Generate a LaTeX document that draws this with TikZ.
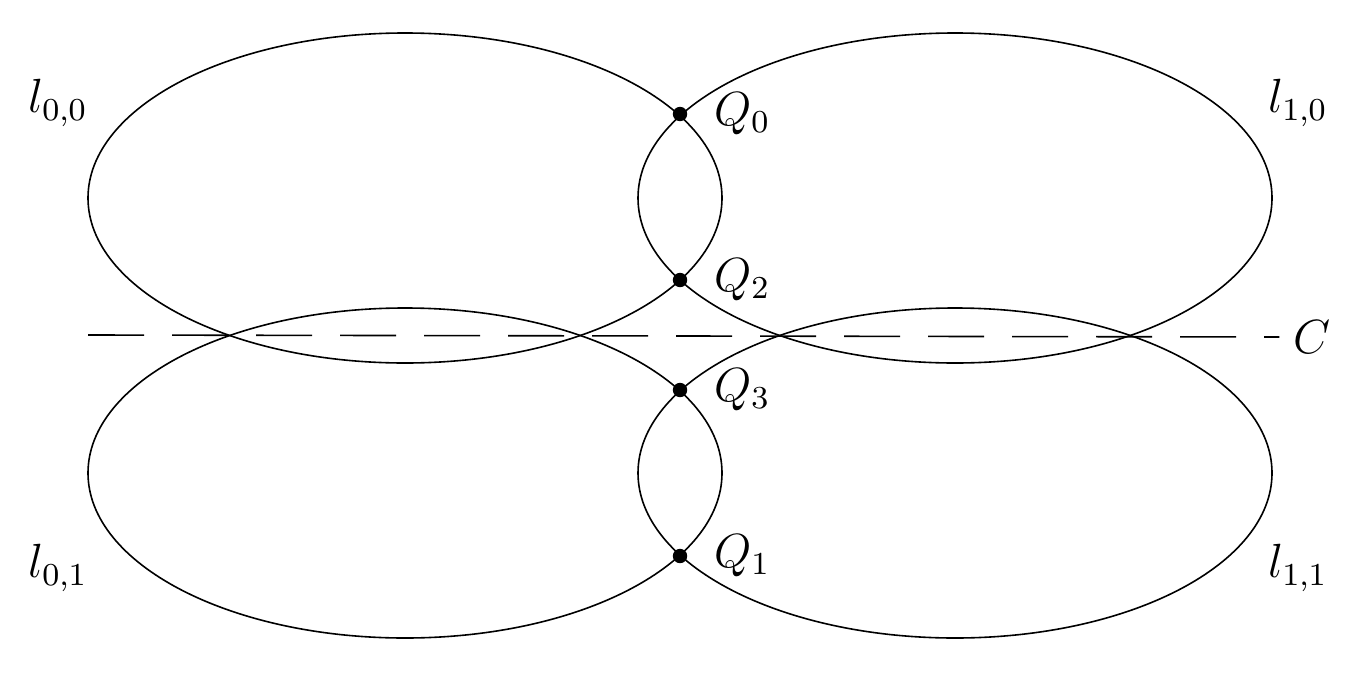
\documentclass[tikz,border=0pt]{standalone}
\begin{document}
\begin{tikzpicture}[x=0.25pt,y=-0.25pt,
  dot/.style={circle,fill=black,inner sep=0pt,minimum size=3.6pt},
  lab/.style={font=\large}]
\useasboundingbox (0,0) rectangle (1359,675);
\draw (405,198) ellipse [x radius=317, y radius=165];
\draw (955,198) ellipse [x radius=317, y radius=165];
\draw (405,473) ellipse [x radius=317, y radius=165];
\draw (955,473) ellipse [x radius=317, y radius=165];
\coordinate (cl) at (88,335);
\node[lab] (C) at (1312,337) {$C$};
\draw[dashed,dash pattern=on 14pt off 7pt] (cl) -- (C.west);
\node[dot] (q0) at (680,114) {};
\node[dot] (q2) at (680,280) {};
\node[dot] (q3) at (680,390) {};
\node[dot] (q1) at (680,556) {};
\node[lab,anchor=west] at ([xshift=5pt]q0) {$Q_0$};
\node[lab,anchor=west] at ([xshift=5pt]q2) {$Q_2$};
\node[lab,anchor=west] at ([xshift=5pt]q3) {$Q_3$};
\node[lab,anchor=west] at ([xshift=5pt]q1) {$Q_1$};
\node[lab] (l00) at (58,103) {$l_{0,0}$};
\node[lab] (l10) at (1298,103) {$l_{1,0}$};
\node[lab] (l01) at (58,568) {$l_{0,1}$};
\node[lab] (l11) at (1298,568) {$l_{1,1}$};
\end{tikzpicture}
\end{document}
